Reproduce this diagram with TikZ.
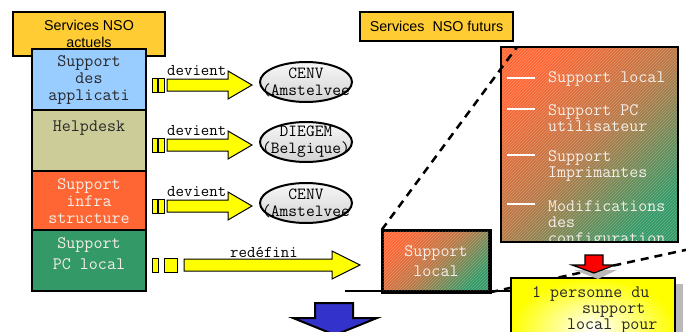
\documentclass[tikz,border=0pt]{standalone}
\usepackage{fontspec}
\setmainfont{Liberation Sans}
\usepackage{tikz}
\usetikzlibrary{shapes.geometric, positioning, shadings, patterns, calc}

\definecolor{nsoyellow}{RGB}{255,204,51}
\definecolor{nsoblue}{RGB}{153,204,255}
\definecolor{nsokhaki}{RGB}{204,204,153}
\definecolor{nsored}{RGB}{255,102,51}
\definecolor{nsogreen}{RGB}{51,153,102}
\definecolor{nsotext}{RGB}{40,40,40}
\definecolor{nsolight}{RGB}{245,238,232}
\definecolor{nsoarrow}{RGB}{255,255,0}
\definecolor{nsodeep}{RGB}{51,51,204}

\tikzset{
  header/.style={font=\fontsize{14.3}{17}\selectfont, align=center},
  boxtext/.style={font=\ttfamily\fontsize{17.5}{17}\selectfont, align=center},
  sitetext/.style={font=\ttfamily\fontsize{17}{17}\selectfont, align=center},
  listtext/.style={font=\ttfamily\fontsize{17.5}{16}\selectfont, align=left, anchor=west, text=nsolight, inner sep=0pt},
  arrowlabel/.style={font=\ttfamily\fontsize{16.4}{16}\selectfont, inner sep=0pt},
  flowarrow/.style={fill=nsoarrow, draw=black, line width=1pt},
  site/.style={ellipse, draw, line width=2pt, minimum width=92, minimum height=40, top color=gray!6, bottom color=gray!35},
  gradbox/.style={draw, line width=2.5pt, top color=nsored, bottom color=nsogreen, middle color=nsored!65!nsogreen, shading angle=45},
  hatch/.style={pattern=north east lines, pattern color=white, opacity=0.25},
  linkline/.style={line width=2.5pt, dash pattern=on 8pt off 6pt},
}

\begin{document}
\begin{tikzpicture}[x=1pt, y=-1pt]
\clip (0,0) rectangle (686,332);

% Current services
\draw[line width=2pt, fill=nsoyellow] (13,12) rectangle (165,56);
\node[header] (actuels) at (89,34) {Services NSO\\actuels};

\draw[line width=2.5pt, fill=nsoblue] (32,49) rectangle (146,110);
\node[boxtext, text=nsotext] (applis) at (89,80) {Support\\des\\applicati};
\draw[line width=2.5pt, fill=nsokhaki] (32,110) rectangle (146,171);
\node[boxtext, text=nsotext] (helpdesk) at (89,128) {Helpdesk};
\draw[line width=2.5pt, fill=nsored] (32,171) rectangle (146,230);
\node[boxtext, text=nsolight] (infra) at (89,201) {Support\\infra\\structure};
\draw[line width=2.5pt, fill=nsogreen] (32,230) rectangle (146,291);
\node[boxtext, text=nsolight] (pclocal) at (89,254) {Support\\[4pt]PC local};

% Arrows "devient"
\draw[flowarrow] (152,78) rectangle (157,92);
\draw[flowarrow] (158,78) rectangle (164,92);
\draw[flowarrow] (167,79) -- (228,79) -- (228,71) -- (252,85) -- (228,99) -- (228,91) -- (167,91) -- cycle;
\node[arrowlabel, anchor=west] (dev1) at (167,71) {devient};

\draw[flowarrow] (152,138) rectangle (157,152);
\draw[flowarrow] (158,138) rectangle (164,152);
\draw[flowarrow] (167,139) -- (228,139) -- (228,131) -- (252,145) -- (228,159) -- (228,151) -- (167,151) -- cycle;
\node[arrowlabel, anchor=west] (dev2) at (167,131) {devient};

\draw[flowarrow] (152,199) rectangle (157,213);
\draw[flowarrow] (158,199) rectangle (164,213);
\draw[flowarrow] (167,200) -- (228,200) -- (228,192) -- (252,206) -- (228,220) -- (228,212) -- (167,212) -- cycle;
\node[arrowlabel, anchor=west] (dev3) at (167,192) {devient};

% Arrow "redefini"
\draw[flowarrow] (152,258) rectangle (158,272);
\draw[flowarrow] (164,258) rectangle (177,272);
\draw[flowarrow] (184,259) -- (332,259) -- (332,251) -- (360,265) -- (332,279) -- (332,271) -- (184,271) -- cycle;
\node[arrowlabel] (redef) at (264,252) {redéfini};

% Sites
\node[site] (cenv1) at (306,82) {};
\node[sitetext] (cenv1txt) at (cenv1) {CENV\\(Amstelvee};
\node[site] (diegem) at (306,142) {};
\node[sitetext] (diegemtxt) at (diegem) {DIEGEM\\(Belgique)};
\node[site] (cenv2) at (306,203) {};
\node[sitetext] (cenv2txt) at (cenv2) {CENV\\(Amstelvee};

% Future services
\draw[line width=2pt, fill=nsoyellow] (360,12) rectangle (513,41);
\node[header] (futurs) at (436.5,26.5) {Services\ \ NSO futurs};

% Detail box
\shade[gradbox] (501,47) rectangle (678,242);
\fill[hatch] (501,47) rectangle (678,242);
\begin{scope}
\clip (502,48) rectangle (677,240);
\draw[white, line width=1.5pt] (507,78) -- (535,78);
\draw[white, line width=1.5pt] (507,109) -- (535,109);
\draw[white, line width=1.5pt] (507,155) -- (535,155);
\draw[white, line width=1.5pt] (507,204) -- (535,204);
\node[listtext] (l1) at (548,79) {Support local};
\node[listtext] (l2) at (548,118) {Support PC\\utilisateur};
\node[listtext] (l3) at (548,166) {Support\\Imprimantes};
\node[listtext] (l4) at (548,224) {Modifications\\des\\configuration};
\end{scope}
\draw[line width=2.5pt] (501,47) rectangle (678,242);
\coordinate (bigcorner) at (517,47);

% Local support
\draw[line width=2pt] (345,291) -- (511,291);
\node[gradbox, minimum width=106, minimum height=60] (smallbox) at (436,261) {};
\fill[hatch] (smallbox.south west) rectangle (smallbox.north east);
\node[boxtext, text=nsolight] (smalltxt) at (smallbox) {Support\\[3pt]local};
\draw[line width=2.5pt] (smallbox.south west) rectangle (smallbox.north east);
\coordinate (rightend) at (690,249);
\draw[linkline] (smallbox.north west) -- (bigcorner);
\draw[linkline] (smallbox.south east) -- (rightend);

% One person box
\fill[gray!55] (517,284) rectangle (683,385);
\shade[inner color=white, outer color=nsoarrow, draw=black, line width=2.5pt] (511,278) rectangle (675,380);
\node[font=\ttfamily\fontsize{17.5}{16}\selectfont, align=left, anchor=north west, text=nsotext, inner sep=0pt] (person) at (532,286)
  {1 personne du\\\hspace*{50pt}support\\\hspace*{35pt}local pour};

% Down arrows
\fill[gray!55] (574,270) -- (617,270) -- (598,279) -- cycle;
\draw[fill=red, line width=1.2pt] (585,255) -- (603,255) -- (603,265) -- (615,265) -- (594,273) -- (572,265) -- (585,265) -- cycle;
\draw[fill=nsodeep, line width=2pt] (315,303) -- (353,303) -- (353,318) -- (377,318) -- (335,335) -- (293,318) -- (315,318) -- cycle;
\end{tikzpicture}
\end{document}
